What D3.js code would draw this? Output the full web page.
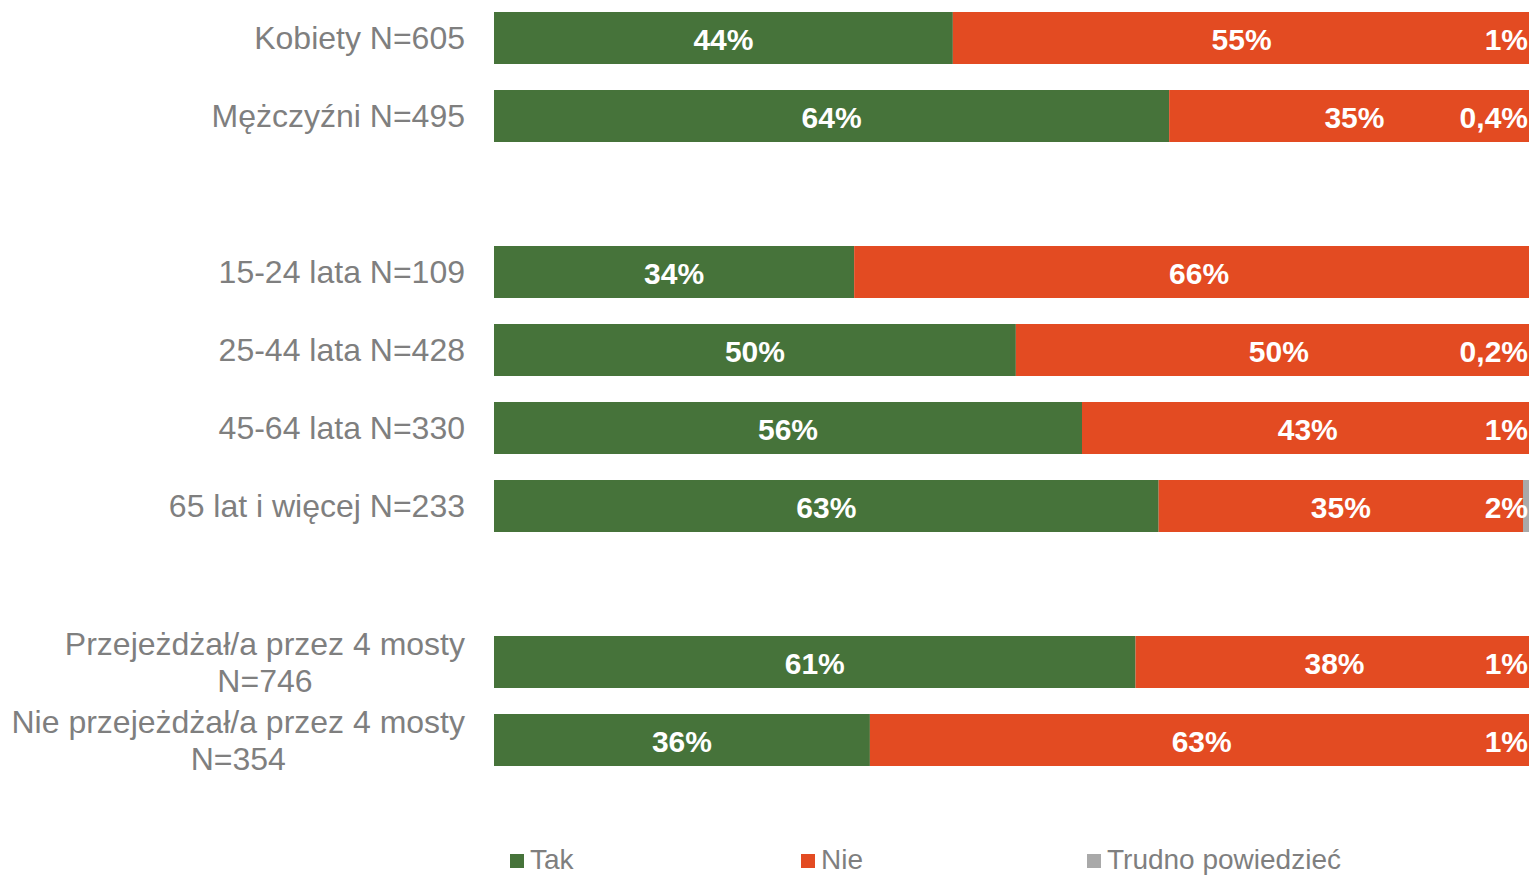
<!DOCTYPE html>
<html>
<head>
<meta charset="utf-8">
<script src="https://cdn.jsdelivr.net/npm/d3@7"></script>
<style>
  html, body { margin: 0; padding: 0; background: #ffffff; overflow: hidden; }
  svg { display: block; }
</style>
</head>
<body>
<svg id="chart" width="1529" height="876"></svg>
<script>
// ---- data ----
const categories = [
  "Kobiety N=605",
  "Mężczyźni N=495",
  "",
  "15-24 lata N=109",
  "25-44 lata N=428",
  "45-64 lata N=330",
  "65 lat i więcej N=233",
  "",
  "Przejeżdżał/a przez 4 mosty\nN=746",
  "Nie przejeżdżał/a przez 4 mosty\nN=354"
];
const tak   = [43.7, 64.3, null, 34.3, 49.7, 56.0, 63.3, null, 61.1, 35.8];
const nie   = [55.0, 35.3, null, 65.7, 50.1, 43.0, 34.7, null, 37.9, 63.2];
const trudno= [ 1.3,  0.4, null,  0.0,  0.2,  1.0,  2.0, null,  1.0,  1.0];
const seriesNames = ["Tak", "Nie", "Trudno powiedzieć"];
const seriesColors = ["#46733A", "#E34B22", "#A9A9A9"];

// ---- layout ----
const svg = d3.select("#chart");
const xLeft = 494, xRight = 1544;
const labelRight = 465;
const textGrey = "#7F7F7F";

const keys = categories.map((c, i) => "row" + i);
const y = d3.scaleBand().domain(keys).range([-1, 779])
  .paddingInner(1/3).paddingOuter(1/6);
const x = d3.scaleLinear().domain([0, 100]).range([xLeft, xRight]);

const rows = categories.map((c, i) => ({
  key: keys[i], label: c, vals: [tak[i], nie[i], trudno[i]]
})).filter(r => r.vals[0] !== null);

const stack = d3.stack().keys([0, 1, 2]).value((d, k) => d.vals[k]);
const stacked = stack(rows);

const fmt = v => v < 1 ? d3.format(".1f")(v).replace(".", ",") + "%" : Math.round(v) + "%";

// bars
const g = svg.append("g");
stacked.forEach((layer, si) => {
  g.selectAll(null).data(layer.filter(d => d[1] - d[0] > 0)).enter().append("rect")
    .attr("x", d => x(d[0]))
    .attr("width", d => x(d[1]) - x(d[0]))
    .attr("y", d => y(d.data.key))
    .attr("height", y.bandwidth())
    .attr("fill", seriesColors[si]);
});

// value labels
stacked.forEach((layer, si) => {
  g.selectAll(null).data(layer.filter(d => d[1] - d[0] > 0)).enter().append("text")
    .attr("x", d => si < 2 ? (x(d[0]) + x(d[1])) / 2 : 1528)
    .attr("y", d => y(d.data.key) + y.bandwidth() / 2 + 1)
    .attr("dy", "0.36em")
    .attr("text-anchor", si < 2 ? "middle" : "end")
    .attr("fill", "#ffffff")
    .attr("font-family", "'Liberation Sans', Arial, sans-serif")
    .attr("font-weight", "bold")
    .attr("font-size", 30)
    .text(d => fmt(d[1] - d[0]));
});

// category labels
const lab = svg.append("g")
  .attr("font-family", "'Liberation Sans', Arial, sans-serif")
  .attr("font-size", 32)
  .attr("fill", textGrey);
rows.forEach(r => {
  const lines = r.label.split("\n");
  const cy = y(r.key) + y.bandwidth() / 2;
  const lh = 37;
  const t = lab.append("text").attr("text-anchor", "end");
  lines.forEach((ln, li) => {
    t.append("tspan").attr("x", labelRight)
      .attr("y", cy + (li - (lines.length - 1) / 2) * lh)
      .attr("dy", "0.35em").text(ln);
  });
  if (lines.length > 1) {
    const widths = [];
    t.selectAll("tspan").each(function () { widths.push(this.getComputedTextLength()); });
    const maxw = d3.max(widths);
    t.attr("text-anchor", "middle");
    t.selectAll("tspan").attr("x", labelRight - maxw / 2);
  }
});

// legend
const legendX = [510, 801, 1087];
const legend = svg.append("g")
  .attr("font-family", "'Liberation Sans', Arial, sans-serif")
  .attr("font-size", 28)
  .attr("fill", textGrey);
seriesNames.forEach((n, i) => {
  legend.append("rect").attr("x", legendX[i]).attr("y", 854)
    .attr("width", 14).attr("height", 14).attr("fill", seriesColors[i]);
  legend.append("text").attr("x", legendX[i] + 20).attr("y", 859)
    .attr("dy", "0.35em").text(n);
});
</script>
</body>
</html>
